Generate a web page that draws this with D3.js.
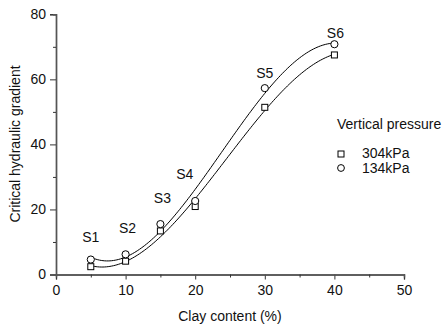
<!DOCTYPE html>
<html>
<head>
<meta charset="utf-8">
<script src="https://cdn.jsdelivr.net/npm/d3@7"></script>
<style>
  body { margin: 0; background: #fff; }
  svg text { font-family: "Liberation Sans", Arial, sans-serif; fill: #111; }
</style>
</head>
<body>
<div id="chart"></div>
<script>
// data
var clay = [5, 10, 15, 20, 30, 40];
var samples = ["S1", "S2", "S3", "S4", "S5", "S6"];
var grad304 = [2.4, 4.1, 13.4, 20.9, 51.4, 67.5];
var grad134 = [4.6, 6.2, 15.5, 22.6, 57.3, 70.8];
var seriesNames = ["304kPa", "134kPa"];
var xTicks = [0, 10, 20, 30, 40, 50];
var xMinor = [5, 15, 25, 35, 45];
var yTicks = [0, 20, 40, 60, 80];
var yMinor = [10, 30, 50, 70];

var width = 444, height = 328;
var fs = 14;
var x = d3.scaleLinear().domain([0, 50]).range([56, 404]);
var y = d3.scaleLinear().domain([0, 80]).range([274.5, 14.3]);

var svg = d3.select("#chart").append("svg")
    .attr("width", width)
    .attr("height", height);

//least squares cubic, same kind of fit line as the original
function cubicFit(xs, ys){
    var n = 4, A = [], i, j, k;
    for(i = 0; i < n; i++){
        A.push([]);
        for(j = 0; j <= n; j++) A[i].push(0);
    }
    xs.forEach(function(xv, p){
        for(i = 0; i < n; i++){
            for(j = 0; j < n; j++) A[i][j] += Math.pow(xv, i + j);
            A[i][n] += ys[p] * Math.pow(xv, i);
        }
    });
    for(i = 0; i < n; i++){
        var piv = i;
        for(k = i + 1; k < n; k++) if(Math.abs(A[k][i]) > Math.abs(A[piv][i])) piv = k;
        var t = A[i]; A[i] = A[piv]; A[piv] = t;
        for(k = i + 1; k < n; k++){
            var f = A[k][i] / A[i][i];
            for(j = i; j <= n; j++) A[k][j] -= f * A[i][j];
        }
    }
    var c = [0, 0, 0, 0];
    for(i = n - 1; i >= 0; i--){
        var s = A[i][n];
        for(j = i + 1; j < n; j++) s -= A[i][j] * c[j];
        c[i] = s / A[i][i];
    }
    return function(xv){ return c[0] + c[1]*xv + c[2]*xv*xv + c[3]*xv*xv*xv; };
}

var line = d3.line()
    .x(function(d){ return x(d[0]); })
    .y(function(d){ return y(d[1]); });

[grad304, grad134].forEach(function(vals){
    var fit = cubicFit(clay, vals);
    var pts = d3.range(5, 40.01, 0.25).map(function(v){ return [v, fit(v)]; });
    svg.append("path")
        .attr("d", line(pts))
        .attr("fill", "none")
        .attr("stroke", "#000")
        .attr("stroke-width", 1);
});

//axes
svg.append("g").attr("transform", "translate(0," + y(0) + ")")
    .call(d3.axisBottom(x).tickValues(xTicks).tickSize(5).tickPadding(6).tickFormat(d3.format("d")));
svg.append("g").attr("transform", "translate(0," + y(0) + ")")
    .call(d3.axisBottom(x).tickValues(xMinor).tickSize(3).tickFormat(""));
svg.append("g").attr("transform", "translate(" + x(0) + ",0)")
    .call(d3.axisLeft(y).tickValues(yTicks).tickSize(6).tickPadding(4).tickFormat(d3.format("d")));
svg.append("g").attr("transform", "translate(" + x(0) + ",0)")
    .call(d3.axisLeft(y).tickValues(yMinor).tickSize(3).tickFormat(""));

svg.selectAll(".domain").attr("stroke", "#555").attr("stroke-width", 1.4);
svg.selectAll(".tick line").attr("stroke", "#333");
svg.selectAll(".tick text").attr("font-size", fs).attr("fill", "#111")
    .attr("font-family", "Liberation Sans, Arial, sans-serif");

svg.append("text")
    .attr("x", (x(0) + x(50)) / 2)
    .attr("y", 321)
    .attr("text-anchor", "middle")
    .attr("font-size", fs)
    .text("Clay content (%)");

svg.append("text")
    .attr("transform", "translate(20," + 144 + ") rotate(-90)")
    .attr("text-anchor", "middle")
    .attr("font-size", fs)
    .text("Critical hydraulic gradient");

//markers
svg.selectAll(".sq").data(clay).enter().append("rect")
    .attr("class", "sq")
    .attr("x", function(d){ return x(d) - 3; })
    .attr("y", function(d, i){ return y(grad304[i]) - 3; })
    .attr("width", 6).attr("height", 6)
    .attr("fill", "#fff").attr("stroke", "#000").attr("stroke-width", 1);

svg.selectAll(".ci").data(clay).enter().append("circle")
    .attr("class", "ci")
    .attr("cx", function(d){ return x(d); })
    .attr("cy", function(d, i){ return y(grad134[i]); })
    .attr("r", 3.6)
    .attr("fill", "#fff").attr("stroke", "#000").attr("stroke-width", 1);

//sample labels, offset from the circle marker
var labelDx = [0, 2, 2, -10.5, 0, 1];
var labelDy = [-18, -21, -21, -22, -10.6, -6];
svg.selectAll(".lab").data(samples).enter().append("text")
    .attr("class", "lab")
    .attr("x", function(d, i){ return x(clay[i]) + labelDx[i]; })
    .attr("y", function(d, i){ return y(grad134[i]) + labelDy[i]; })
    .attr("text-anchor", "middle")
    .attr("font-size", fs)
    .text(function(d){ return d; });

//legend
var lg = svg.append("g").attr("transform", "translate(337,129)");
lg.append("text").attr("x", 0).attr("y", 0).attr("font-size", fs).text("Vertical pressure");
lg.append("rect").attr("x", 1).attr("y", 22).attr("width", 6).attr("height", 6)
    .attr("fill", "#fff").attr("stroke", "#000");
lg.append("circle").attr("cx", 4).attr("cy", 39).attr("r", 3.4)
    .attr("fill", "#fff").attr("stroke", "#000");
lg.selectAll(".lt").data(seriesNames).enter().append("text")
    .attr("class", "lt")
    .attr("x", 25)
    .attr("y", function(d, i){ return 29 + i * 14.5; })
    .attr("font-size", fs)
    .text(function(d){ return d; });
</script>
</body>
</html>
